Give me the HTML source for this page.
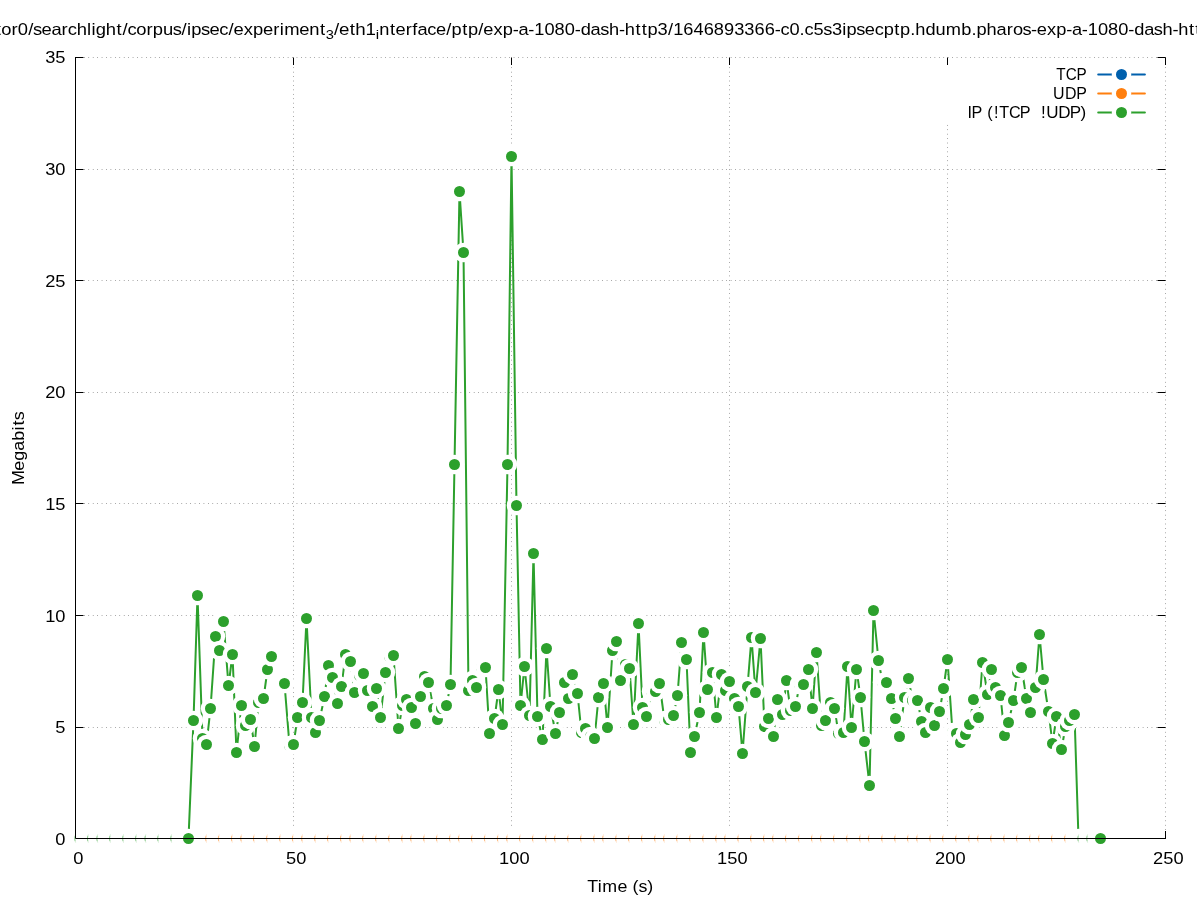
<!DOCTYPE html>
<html lang="en"><head><meta charset="utf-8"><title>Throughput plot</title>
<style>html,body{margin:0;padding:0;background:#fff}svg{display:block;will-change:transform;font-family:"Liberation Sans",sans-serif;fill:#000}</style></head><body>
<svg width="1197" height="900" viewBox="0 0 1197 900">
<rect width="1197" height="900" fill="#fff"/>
<g stroke="#808080" stroke-width="1" stroke-dasharray="0.68 3.75" fill="none"><path d="M75.125 727.50H1165.5"/><path d="M75.125 615.50H1165.5"/><path d="M75.125 503.50H1165.5"/><path d="M75.125 392.50H1165.5"/><path d="M75.125 280.50H1165.5"/><path d="M75.125 169.50H1165.5"/><path d="M75.125 57.50H1165.5"/><path d="M293.50 838.875V57.5"/><path d="M511.50 838.875V57.5"/><path d="M729.50 838.875V57.5"/><path d="M947.50 838.875V57.5"/><path d="M1165.50 838.875V57.5"/></g>
<path d="M75.5 838.50h8.0M1165.5 838.50h-8.0M75.5 727.50h8.0M1165.5 727.50h-8.0M75.5 615.50h8.0M1165.5 615.50h-8.0M75.5 503.50h8.0M1165.5 503.50h-8.0M75.5 392.50h8.0M1165.5 392.50h-8.0M75.5 280.50h8.0M1165.5 280.50h-8.0M75.5 169.50h8.0M1165.5 169.50h-8.0M75.5 57.50h8.0M1165.5 57.50h-8.0M75.50 838.5v-7.5M75.50 57.5v7.5M293.50 838.5v-7.5M293.50 57.5v7.5M511.50 838.5v-7.5M511.50 57.5v7.5M729.50 838.5v-7.5M729.50 57.5v7.5M947.50 838.5v-7.5M947.50 57.5v7.5M1165.50 838.5v-7.5M1165.50 57.5v7.5" fill="none" stroke="#000" stroke-width="1" stroke-linecap="butt"/>
<rect x="65.75" y="828.75" width="1044.50" height="19.50" fill="#fff"/>
<path d="M75.50 838.50L188.50 838.50L193.50 720.50L197.50 595.50L202.50 738.50L206.50 744.50L210.50 708.50L215.50 636.50L219.50 650.50L223.50 621.50L228.50 685.50L232.50 654.50L236.50 752.50L241.50 705.50L245.50 725.50L250.50 719.50L254.50 746.50L258.50 702.50L263.50 698.50L267.50 669.50L271.50 656.50M284.50 683.50L289.50 745.50L293.50 744.50L297.50 717.50L302.50 702.50L306.50 618.50L311.50 717.50L315.50 732.50L319.50 720.50L324.50 696.50L328.50 665.50L332.50 677.50L337.50 703.50L341.50 686.50L345.50 654.50L350.50 661.50L354.50 692.50L359.50 675.50L363.50 673.50L367.50 690.50L372.50 706.50L376.50 688.50L380.50 717.50L385.50 672.50L389.50 656.50L393.50 655.50L398.50 728.50L402.50 705.50L406.50 699.50L411.50 707.50L415.50 723.50L420.50 696.50L424.50 676.50L428.50 682.50L433.50 708.50L437.50 719.50L441.50 708.50L446.50 705.50L450.50 684.50L454.50 464.50L459.50 191.50L463.50 252.50L468.50 690.50L472.50 680.50L476.50 687.50L481.50 667.50L485.50 667.50L489.50 733.50L494.50 718.50L498.50 689.50L502.50 724.50L507.50 464.50L511.50 156.50L516.50 505.50L520.50 705.50L524.50 666.50L529.50 715.50L533.50 553.50L537.50 716.50L542.50 739.50L546.50 648.50L550.50 706.50L555.50 733.50L559.50 712.50L564.50 682.50L568.50 698.50L572.50 674.50L577.50 693.50L581.50 732.50L585.50 728.50L590.50 736.50L594.50 738.50L598.50 697.50L603.50 683.50L607.50 727.50L612.50 650.50L616.50 641.50L620.50 680.50L625.50 664.50L629.50 668.50L633.50 724.50L638.50 623.50L642.50 707.50L646.50 716.50L651.50 691.50L655.50 691.50L659.50 683.50L664.50 720.50L668.50 719.50L673.50 715.50L677.50 695.50L681.50 642.50L686.50 659.50L690.50 752.50L694.50 736.50L699.50 712.50L703.50 632.50L707.50 689.50L712.50 672.50L716.50 717.50L721.50 674.50L725.50 690.50L729.50 681.50L734.50 698.50L738.50 706.50L742.50 753.50L747.50 686.50L751.50 637.50L755.50 692.50L760.50 638.50L764.50 726.50L768.50 718.50L773.50 736.50L777.50 699.50L782.50 714.50L786.50 680.50L790.50 710.50L795.50 706.50L799.50 684.50L803.50 684.50L808.50 669.50L812.50 708.50L816.50 652.50L821.50 725.50L825.50 720.50L830.50 702.50L834.50 708.50L838.50 733.50L843.50 732.50L847.50 666.50L851.50 727.50L856.50 669.50L860.50 697.50L864.50 741.50L869.50 785.50L873.50 610.50L878.50 660.50L882.50 682.50L886.50 682.50L891.50 698.50L895.50 718.50L899.50 736.50L904.50 697.50L908.50 678.50L912.50 700.50L917.50 700.50L921.50 721.50L925.50 732.50L930.50 707.50L934.50 725.50L939.50 711.50L943.50 688.50L947.50 659.50L952.50 732.50L956.50 733.50L960.50 742.50L965.50 734.50L969.50 724.50L973.50 699.50L978.50 717.50L982.50 662.50L987.50 694.50L991.50 669.50L995.50 687.50L1000.50 695.50L1004.50 735.50L1008.50 722.50L1013.50 700.50L1017.50 672.50L1021.50 667.50L1026.50 698.50L1030.50 712.50L1035.50 687.50L1039.50 634.50L1043.50 679.50L1048.50 711.50L1052.50 743.50L1056.50 716.50L1061.50 749.50L1065.50 726.50L1069.50 720.50L1074.50 714.50L1078.50 838.50L1100.50 838.50" fill="none" stroke="#2ca02c" stroke-width="2" stroke-linejoin="round" stroke-linecap="butt"/>
<g><circle cx="75.50" cy="838.50" r="9.75" fill="#fff"/><circle cx="79.50" cy="838.50" r="9.75" fill="#fff"/><circle cx="84.50" cy="838.50" r="9.75" fill="#fff"/><circle cx="88.50" cy="838.50" r="9.75" fill="#fff"/><circle cx="93.50" cy="838.50" r="9.75" fill="#fff"/><circle cx="97.50" cy="838.50" r="9.75" fill="#fff"/><circle cx="101.50" cy="838.50" r="9.75" fill="#fff"/><circle cx="106.50" cy="838.50" r="9.75" fill="#fff"/><circle cx="110.50" cy="838.50" r="9.75" fill="#fff"/><circle cx="114.50" cy="838.50" r="9.75" fill="#fff"/><circle cx="119.50" cy="838.50" r="9.75" fill="#fff"/><circle cx="123.50" cy="838.50" r="9.75" fill="#fff"/><circle cx="127.50" cy="838.50" r="9.75" fill="#fff"/><circle cx="132.50" cy="838.50" r="9.75" fill="#fff"/><circle cx="136.50" cy="838.50" r="9.75" fill="#fff"/><circle cx="140.50" cy="838.50" r="9.75" fill="#fff"/><circle cx="145.50" cy="838.50" r="9.75" fill="#fff"/><circle cx="149.50" cy="838.50" r="9.75" fill="#fff"/><circle cx="154.50" cy="838.50" r="9.75" fill="#fff"/><circle cx="158.50" cy="838.50" r="9.75" fill="#fff"/><circle cx="162.50" cy="838.50" r="9.75" fill="#fff"/><circle cx="167.50" cy="838.50" r="9.75" fill="#fff"/><circle cx="171.50" cy="838.50" r="9.75" fill="#fff"/><circle cx="175.50" cy="838.50" r="9.75" fill="#fff"/><circle cx="180.50" cy="838.50" r="9.75" fill="#fff"/><circle cx="184.50" cy="838.50" r="9.75" fill="#fff"/><circle cx="188.50" cy="838.50" r="9.75" fill="#fff"/><circle cx="188.50" cy="838.50" r="5.5" fill="#2ca02c"/><circle cx="193.50" cy="720.50" r="9.75" fill="#fff"/><circle cx="193.50" cy="720.50" r="5.5" fill="#2ca02c"/><circle cx="197.50" cy="595.50" r="9.75" fill="#fff"/><circle cx="197.50" cy="595.50" r="5.5" fill="#2ca02c"/><circle cx="202.50" cy="738.50" r="9.75" fill="#fff"/><circle cx="202.50" cy="738.50" r="5.5" fill="#2ca02c"/><circle cx="206.50" cy="744.50" r="9.75" fill="#fff"/><circle cx="206.50" cy="744.50" r="5.5" fill="#2ca02c"/><circle cx="210.50" cy="708.50" r="9.75" fill="#fff"/><circle cx="210.50" cy="708.50" r="5.5" fill="#2ca02c"/><circle cx="215.50" cy="636.50" r="9.75" fill="#fff"/><circle cx="215.50" cy="636.50" r="5.5" fill="#2ca02c"/><circle cx="219.50" cy="650.50" r="9.75" fill="#fff"/><circle cx="219.50" cy="650.50" r="5.5" fill="#2ca02c"/><circle cx="223.50" cy="621.50" r="9.75" fill="#fff"/><circle cx="223.50" cy="621.50" r="5.5" fill="#2ca02c"/><circle cx="228.50" cy="685.50" r="9.75" fill="#fff"/><circle cx="228.50" cy="685.50" r="5.5" fill="#2ca02c"/><circle cx="232.50" cy="654.50" r="9.75" fill="#fff"/><circle cx="232.50" cy="654.50" r="5.5" fill="#2ca02c"/><circle cx="236.50" cy="752.50" r="9.75" fill="#fff"/><circle cx="236.50" cy="752.50" r="5.5" fill="#2ca02c"/><circle cx="241.50" cy="705.50" r="9.75" fill="#fff"/><circle cx="241.50" cy="705.50" r="5.5" fill="#2ca02c"/><circle cx="245.50" cy="725.50" r="9.75" fill="#fff"/><circle cx="245.50" cy="725.50" r="5.5" fill="#2ca02c"/><circle cx="250.50" cy="719.50" r="9.75" fill="#fff"/><circle cx="250.50" cy="719.50" r="5.5" fill="#2ca02c"/><circle cx="254.50" cy="746.50" r="9.75" fill="#fff"/><circle cx="254.50" cy="746.50" r="5.5" fill="#2ca02c"/><circle cx="258.50" cy="702.50" r="9.75" fill="#fff"/><circle cx="258.50" cy="702.50" r="5.5" fill="#2ca02c"/><circle cx="263.50" cy="698.50" r="9.75" fill="#fff"/><circle cx="263.50" cy="698.50" r="5.5" fill="#2ca02c"/><circle cx="267.50" cy="669.50" r="9.75" fill="#fff"/><circle cx="267.50" cy="669.50" r="5.5" fill="#2ca02c"/><circle cx="271.50" cy="656.50" r="9.75" fill="#fff"/><circle cx="271.50" cy="656.50" r="5.5" fill="#2ca02c"/><circle cx="284.50" cy="683.50" r="9.75" fill="#fff"/><circle cx="284.50" cy="683.50" r="5.5" fill="#2ca02c"/><circle cx="289.50" cy="745.50" r="9.75" fill="#fff"/><circle cx="289.50" cy="745.50" r="5.5" fill="#2ca02c"/><circle cx="293.50" cy="744.50" r="9.75" fill="#fff"/><circle cx="293.50" cy="744.50" r="5.5" fill="#2ca02c"/><circle cx="297.50" cy="717.50" r="9.75" fill="#fff"/><circle cx="297.50" cy="717.50" r="5.5" fill="#2ca02c"/><circle cx="302.50" cy="702.50" r="9.75" fill="#fff"/><circle cx="302.50" cy="702.50" r="5.5" fill="#2ca02c"/><circle cx="306.50" cy="618.50" r="9.75" fill="#fff"/><circle cx="306.50" cy="618.50" r="5.5" fill="#2ca02c"/><circle cx="311.50" cy="717.50" r="9.75" fill="#fff"/><circle cx="311.50" cy="717.50" r="5.5" fill="#2ca02c"/><circle cx="315.50" cy="732.50" r="9.75" fill="#fff"/><circle cx="315.50" cy="732.50" r="5.5" fill="#2ca02c"/><circle cx="319.50" cy="720.50" r="9.75" fill="#fff"/><circle cx="319.50" cy="720.50" r="5.5" fill="#2ca02c"/><circle cx="324.50" cy="696.50" r="9.75" fill="#fff"/><circle cx="324.50" cy="696.50" r="5.5" fill="#2ca02c"/><circle cx="328.50" cy="665.50" r="9.75" fill="#fff"/><circle cx="328.50" cy="665.50" r="5.5" fill="#2ca02c"/><circle cx="332.50" cy="677.50" r="9.75" fill="#fff"/><circle cx="332.50" cy="677.50" r="5.5" fill="#2ca02c"/><circle cx="337.50" cy="703.50" r="9.75" fill="#fff"/><circle cx="337.50" cy="703.50" r="5.5" fill="#2ca02c"/><circle cx="341.50" cy="686.50" r="9.75" fill="#fff"/><circle cx="341.50" cy="686.50" r="5.5" fill="#2ca02c"/><circle cx="345.50" cy="654.50" r="9.75" fill="#fff"/><circle cx="345.50" cy="654.50" r="5.5" fill="#2ca02c"/><circle cx="350.50" cy="661.50" r="9.75" fill="#fff"/><circle cx="350.50" cy="661.50" r="5.5" fill="#2ca02c"/><circle cx="354.50" cy="692.50" r="9.75" fill="#fff"/><circle cx="354.50" cy="692.50" r="5.5" fill="#2ca02c"/><circle cx="359.50" cy="675.50" r="9.75" fill="#fff"/><circle cx="359.50" cy="675.50" r="5.5" fill="#2ca02c"/><circle cx="363.50" cy="673.50" r="9.75" fill="#fff"/><circle cx="363.50" cy="673.50" r="5.5" fill="#2ca02c"/><circle cx="367.50" cy="690.50" r="9.75" fill="#fff"/><circle cx="367.50" cy="690.50" r="5.5" fill="#2ca02c"/><circle cx="372.50" cy="706.50" r="9.75" fill="#fff"/><circle cx="372.50" cy="706.50" r="5.5" fill="#2ca02c"/><circle cx="376.50" cy="688.50" r="9.75" fill="#fff"/><circle cx="376.50" cy="688.50" r="5.5" fill="#2ca02c"/><circle cx="380.50" cy="717.50" r="9.75" fill="#fff"/><circle cx="380.50" cy="717.50" r="5.5" fill="#2ca02c"/><circle cx="385.50" cy="672.50" r="9.75" fill="#fff"/><circle cx="385.50" cy="672.50" r="5.5" fill="#2ca02c"/><circle cx="389.50" cy="656.50" r="9.75" fill="#fff"/><circle cx="389.50" cy="656.50" r="5.5" fill="#2ca02c"/><circle cx="393.50" cy="655.50" r="9.75" fill="#fff"/><circle cx="393.50" cy="655.50" r="5.5" fill="#2ca02c"/><circle cx="398.50" cy="728.50" r="9.75" fill="#fff"/><circle cx="398.50" cy="728.50" r="5.5" fill="#2ca02c"/><circle cx="402.50" cy="705.50" r="9.75" fill="#fff"/><circle cx="402.50" cy="705.50" r="5.5" fill="#2ca02c"/><circle cx="406.50" cy="699.50" r="9.75" fill="#fff"/><circle cx="406.50" cy="699.50" r="5.5" fill="#2ca02c"/><circle cx="411.50" cy="707.50" r="9.75" fill="#fff"/><circle cx="411.50" cy="707.50" r="5.5" fill="#2ca02c"/><circle cx="415.50" cy="723.50" r="9.75" fill="#fff"/><circle cx="415.50" cy="723.50" r="5.5" fill="#2ca02c"/><circle cx="420.50" cy="696.50" r="9.75" fill="#fff"/><circle cx="420.50" cy="696.50" r="5.5" fill="#2ca02c"/><circle cx="424.50" cy="676.50" r="9.75" fill="#fff"/><circle cx="424.50" cy="676.50" r="5.5" fill="#2ca02c"/><circle cx="428.50" cy="682.50" r="9.75" fill="#fff"/><circle cx="428.50" cy="682.50" r="5.5" fill="#2ca02c"/><circle cx="433.50" cy="708.50" r="9.75" fill="#fff"/><circle cx="433.50" cy="708.50" r="5.5" fill="#2ca02c"/><circle cx="437.50" cy="719.50" r="9.75" fill="#fff"/><circle cx="437.50" cy="719.50" r="5.5" fill="#2ca02c"/><circle cx="441.50" cy="708.50" r="9.75" fill="#fff"/><circle cx="441.50" cy="708.50" r="5.5" fill="#2ca02c"/><circle cx="446.50" cy="705.50" r="9.75" fill="#fff"/><circle cx="446.50" cy="705.50" r="5.5" fill="#2ca02c"/><circle cx="450.50" cy="684.50" r="9.75" fill="#fff"/><circle cx="450.50" cy="684.50" r="5.5" fill="#2ca02c"/><circle cx="454.50" cy="464.50" r="9.75" fill="#fff"/><circle cx="454.50" cy="464.50" r="5.5" fill="#2ca02c"/><circle cx="459.50" cy="191.50" r="9.75" fill="#fff"/><circle cx="459.50" cy="191.50" r="5.5" fill="#2ca02c"/><circle cx="463.50" cy="252.50" r="9.75" fill="#fff"/><circle cx="463.50" cy="252.50" r="5.5" fill="#2ca02c"/><circle cx="468.50" cy="690.50" r="9.75" fill="#fff"/><circle cx="468.50" cy="690.50" r="5.5" fill="#2ca02c"/><circle cx="472.50" cy="680.50" r="9.75" fill="#fff"/><circle cx="472.50" cy="680.50" r="5.5" fill="#2ca02c"/><circle cx="476.50" cy="687.50" r="9.75" fill="#fff"/><circle cx="476.50" cy="687.50" r="5.5" fill="#2ca02c"/><circle cx="481.50" cy="667.50" r="9.75" fill="#fff"/><circle cx="481.50" cy="667.50" r="5.5" fill="#2ca02c"/><circle cx="485.50" cy="667.50" r="9.75" fill="#fff"/><circle cx="485.50" cy="667.50" r="5.5" fill="#2ca02c"/><circle cx="489.50" cy="733.50" r="9.75" fill="#fff"/><circle cx="489.50" cy="733.50" r="5.5" fill="#2ca02c"/><circle cx="494.50" cy="718.50" r="9.75" fill="#fff"/><circle cx="494.50" cy="718.50" r="5.5" fill="#2ca02c"/><circle cx="498.50" cy="689.50" r="9.75" fill="#fff"/><circle cx="498.50" cy="689.50" r="5.5" fill="#2ca02c"/><circle cx="502.50" cy="724.50" r="9.75" fill="#fff"/><circle cx="502.50" cy="724.50" r="5.5" fill="#2ca02c"/><circle cx="507.50" cy="464.50" r="9.75" fill="#fff"/><circle cx="507.50" cy="464.50" r="5.5" fill="#2ca02c"/><circle cx="511.50" cy="156.50" r="9.75" fill="#fff"/><circle cx="511.50" cy="156.50" r="5.5" fill="#2ca02c"/><circle cx="516.50" cy="505.50" r="9.75" fill="#fff"/><circle cx="516.50" cy="505.50" r="5.5" fill="#2ca02c"/><circle cx="520.50" cy="705.50" r="9.75" fill="#fff"/><circle cx="520.50" cy="705.50" r="5.5" fill="#2ca02c"/><circle cx="524.50" cy="666.50" r="9.75" fill="#fff"/><circle cx="524.50" cy="666.50" r="5.5" fill="#2ca02c"/><circle cx="529.50" cy="715.50" r="9.75" fill="#fff"/><circle cx="529.50" cy="715.50" r="5.5" fill="#2ca02c"/><circle cx="533.50" cy="553.50" r="9.75" fill="#fff"/><circle cx="533.50" cy="553.50" r="5.5" fill="#2ca02c"/><circle cx="537.50" cy="716.50" r="9.75" fill="#fff"/><circle cx="537.50" cy="716.50" r="5.5" fill="#2ca02c"/><circle cx="542.50" cy="739.50" r="9.75" fill="#fff"/><circle cx="542.50" cy="739.50" r="5.5" fill="#2ca02c"/><circle cx="546.50" cy="648.50" r="9.75" fill="#fff"/><circle cx="546.50" cy="648.50" r="5.5" fill="#2ca02c"/><circle cx="550.50" cy="706.50" r="9.75" fill="#fff"/><circle cx="550.50" cy="706.50" r="5.5" fill="#2ca02c"/><circle cx="555.50" cy="733.50" r="9.75" fill="#fff"/><circle cx="555.50" cy="733.50" r="5.5" fill="#2ca02c"/><circle cx="559.50" cy="712.50" r="9.75" fill="#fff"/><circle cx="559.50" cy="712.50" r="5.5" fill="#2ca02c"/><circle cx="564.50" cy="682.50" r="9.75" fill="#fff"/><circle cx="564.50" cy="682.50" r="5.5" fill="#2ca02c"/><circle cx="568.50" cy="698.50" r="9.75" fill="#fff"/><circle cx="568.50" cy="698.50" r="5.5" fill="#2ca02c"/><circle cx="572.50" cy="674.50" r="9.75" fill="#fff"/><circle cx="572.50" cy="674.50" r="5.5" fill="#2ca02c"/><circle cx="577.50" cy="693.50" r="9.75" fill="#fff"/><circle cx="577.50" cy="693.50" r="5.5" fill="#2ca02c"/><circle cx="581.50" cy="732.50" r="9.75" fill="#fff"/><circle cx="581.50" cy="732.50" r="5.5" fill="#2ca02c"/><circle cx="585.50" cy="728.50" r="9.75" fill="#fff"/><circle cx="585.50" cy="728.50" r="5.5" fill="#2ca02c"/><circle cx="590.50" cy="736.50" r="9.75" fill="#fff"/><circle cx="590.50" cy="736.50" r="5.5" fill="#2ca02c"/><circle cx="594.50" cy="738.50" r="9.75" fill="#fff"/><circle cx="594.50" cy="738.50" r="5.5" fill="#2ca02c"/><circle cx="598.50" cy="697.50" r="9.75" fill="#fff"/><circle cx="598.50" cy="697.50" r="5.5" fill="#2ca02c"/><circle cx="603.50" cy="683.50" r="9.75" fill="#fff"/><circle cx="603.50" cy="683.50" r="5.5" fill="#2ca02c"/><circle cx="607.50" cy="727.50" r="9.75" fill="#fff"/><circle cx="607.50" cy="727.50" r="5.5" fill="#2ca02c"/><circle cx="612.50" cy="650.50" r="9.75" fill="#fff"/><circle cx="612.50" cy="650.50" r="5.5" fill="#2ca02c"/><circle cx="616.50" cy="641.50" r="9.75" fill="#fff"/><circle cx="616.50" cy="641.50" r="5.5" fill="#2ca02c"/><circle cx="620.50" cy="680.50" r="9.75" fill="#fff"/><circle cx="620.50" cy="680.50" r="5.5" fill="#2ca02c"/><circle cx="625.50" cy="664.50" r="9.75" fill="#fff"/><circle cx="625.50" cy="664.50" r="5.5" fill="#2ca02c"/><circle cx="629.50" cy="668.50" r="9.75" fill="#fff"/><circle cx="629.50" cy="668.50" r="5.5" fill="#2ca02c"/><circle cx="633.50" cy="724.50" r="9.75" fill="#fff"/><circle cx="633.50" cy="724.50" r="5.5" fill="#2ca02c"/><circle cx="638.50" cy="623.50" r="9.75" fill="#fff"/><circle cx="638.50" cy="623.50" r="5.5" fill="#2ca02c"/><circle cx="642.50" cy="707.50" r="9.75" fill="#fff"/><circle cx="642.50" cy="707.50" r="5.5" fill="#2ca02c"/><circle cx="646.50" cy="716.50" r="9.75" fill="#fff"/><circle cx="646.50" cy="716.50" r="5.5" fill="#2ca02c"/><circle cx="651.50" cy="691.50" r="9.75" fill="#fff"/><circle cx="651.50" cy="691.50" r="5.5" fill="#2ca02c"/><circle cx="655.50" cy="691.50" r="9.75" fill="#fff"/><circle cx="655.50" cy="691.50" r="5.5" fill="#2ca02c"/><circle cx="659.50" cy="683.50" r="9.75" fill="#fff"/><circle cx="659.50" cy="683.50" r="5.5" fill="#2ca02c"/><circle cx="664.50" cy="720.50" r="9.75" fill="#fff"/><circle cx="664.50" cy="720.50" r="5.5" fill="#2ca02c"/><circle cx="668.50" cy="719.50" r="9.75" fill="#fff"/><circle cx="668.50" cy="719.50" r="5.5" fill="#2ca02c"/><circle cx="673.50" cy="715.50" r="9.75" fill="#fff"/><circle cx="673.50" cy="715.50" r="5.5" fill="#2ca02c"/><circle cx="677.50" cy="695.50" r="9.75" fill="#fff"/><circle cx="677.50" cy="695.50" r="5.5" fill="#2ca02c"/><circle cx="681.50" cy="642.50" r="9.75" fill="#fff"/><circle cx="681.50" cy="642.50" r="5.5" fill="#2ca02c"/><circle cx="686.50" cy="659.50" r="9.75" fill="#fff"/><circle cx="686.50" cy="659.50" r="5.5" fill="#2ca02c"/><circle cx="690.50" cy="752.50" r="9.75" fill="#fff"/><circle cx="690.50" cy="752.50" r="5.5" fill="#2ca02c"/><circle cx="694.50" cy="736.50" r="9.75" fill="#fff"/><circle cx="694.50" cy="736.50" r="5.5" fill="#2ca02c"/><circle cx="699.50" cy="712.50" r="9.75" fill="#fff"/><circle cx="699.50" cy="712.50" r="5.5" fill="#2ca02c"/><circle cx="703.50" cy="632.50" r="9.75" fill="#fff"/><circle cx="703.50" cy="632.50" r="5.5" fill="#2ca02c"/><circle cx="707.50" cy="689.50" r="9.75" fill="#fff"/><circle cx="707.50" cy="689.50" r="5.5" fill="#2ca02c"/><circle cx="712.50" cy="672.50" r="9.75" fill="#fff"/><circle cx="712.50" cy="672.50" r="5.5" fill="#2ca02c"/><circle cx="716.50" cy="717.50" r="9.75" fill="#fff"/><circle cx="716.50" cy="717.50" r="5.5" fill="#2ca02c"/><circle cx="721.50" cy="674.50" r="9.75" fill="#fff"/><circle cx="721.50" cy="674.50" r="5.5" fill="#2ca02c"/><circle cx="725.50" cy="690.50" r="9.75" fill="#fff"/><circle cx="725.50" cy="690.50" r="5.5" fill="#2ca02c"/><circle cx="729.50" cy="681.50" r="9.75" fill="#fff"/><circle cx="729.50" cy="681.50" r="5.5" fill="#2ca02c"/><circle cx="734.50" cy="698.50" r="9.75" fill="#fff"/><circle cx="734.50" cy="698.50" r="5.5" fill="#2ca02c"/><circle cx="738.50" cy="706.50" r="9.75" fill="#fff"/><circle cx="738.50" cy="706.50" r="5.5" fill="#2ca02c"/><circle cx="742.50" cy="753.50" r="9.75" fill="#fff"/><circle cx="742.50" cy="753.50" r="5.5" fill="#2ca02c"/><circle cx="747.50" cy="686.50" r="9.75" fill="#fff"/><circle cx="747.50" cy="686.50" r="5.5" fill="#2ca02c"/><circle cx="751.50" cy="637.50" r="9.75" fill="#fff"/><circle cx="751.50" cy="637.50" r="5.5" fill="#2ca02c"/><circle cx="755.50" cy="692.50" r="9.75" fill="#fff"/><circle cx="755.50" cy="692.50" r="5.5" fill="#2ca02c"/><circle cx="760.50" cy="638.50" r="9.75" fill="#fff"/><circle cx="760.50" cy="638.50" r="5.5" fill="#2ca02c"/><circle cx="764.50" cy="726.50" r="9.75" fill="#fff"/><circle cx="764.50" cy="726.50" r="5.5" fill="#2ca02c"/><circle cx="768.50" cy="718.50" r="9.75" fill="#fff"/><circle cx="768.50" cy="718.50" r="5.5" fill="#2ca02c"/><circle cx="773.50" cy="736.50" r="9.75" fill="#fff"/><circle cx="773.50" cy="736.50" r="5.5" fill="#2ca02c"/><circle cx="777.50" cy="699.50" r="9.75" fill="#fff"/><circle cx="777.50" cy="699.50" r="5.5" fill="#2ca02c"/><circle cx="782.50" cy="714.50" r="9.75" fill="#fff"/><circle cx="782.50" cy="714.50" r="5.5" fill="#2ca02c"/><circle cx="786.50" cy="680.50" r="9.75" fill="#fff"/><circle cx="786.50" cy="680.50" r="5.5" fill="#2ca02c"/><circle cx="790.50" cy="710.50" r="9.75" fill="#fff"/><circle cx="790.50" cy="710.50" r="5.5" fill="#2ca02c"/><circle cx="795.50" cy="706.50" r="9.75" fill="#fff"/><circle cx="795.50" cy="706.50" r="5.5" fill="#2ca02c"/><circle cx="799.50" cy="684.50" r="9.75" fill="#fff"/><circle cx="799.50" cy="684.50" r="5.5" fill="#2ca02c"/><circle cx="803.50" cy="684.50" r="9.75" fill="#fff"/><circle cx="803.50" cy="684.50" r="5.5" fill="#2ca02c"/><circle cx="808.50" cy="669.50" r="9.75" fill="#fff"/><circle cx="808.50" cy="669.50" r="5.5" fill="#2ca02c"/><circle cx="812.50" cy="708.50" r="9.75" fill="#fff"/><circle cx="812.50" cy="708.50" r="5.5" fill="#2ca02c"/><circle cx="816.50" cy="652.50" r="9.75" fill="#fff"/><circle cx="816.50" cy="652.50" r="5.5" fill="#2ca02c"/><circle cx="821.50" cy="725.50" r="9.75" fill="#fff"/><circle cx="821.50" cy="725.50" r="5.5" fill="#2ca02c"/><circle cx="825.50" cy="720.50" r="9.75" fill="#fff"/><circle cx="825.50" cy="720.50" r="5.5" fill="#2ca02c"/><circle cx="830.50" cy="702.50" r="9.75" fill="#fff"/><circle cx="830.50" cy="702.50" r="5.5" fill="#2ca02c"/><circle cx="834.50" cy="708.50" r="9.75" fill="#fff"/><circle cx="834.50" cy="708.50" r="5.5" fill="#2ca02c"/><circle cx="838.50" cy="733.50" r="9.75" fill="#fff"/><circle cx="838.50" cy="733.50" r="5.5" fill="#2ca02c"/><circle cx="843.50" cy="732.50" r="9.75" fill="#fff"/><circle cx="843.50" cy="732.50" r="5.5" fill="#2ca02c"/><circle cx="847.50" cy="666.50" r="9.75" fill="#fff"/><circle cx="847.50" cy="666.50" r="5.5" fill="#2ca02c"/><circle cx="851.50" cy="727.50" r="9.75" fill="#fff"/><circle cx="851.50" cy="727.50" r="5.5" fill="#2ca02c"/><circle cx="856.50" cy="669.50" r="9.75" fill="#fff"/><circle cx="856.50" cy="669.50" r="5.5" fill="#2ca02c"/><circle cx="860.50" cy="697.50" r="9.75" fill="#fff"/><circle cx="860.50" cy="697.50" r="5.5" fill="#2ca02c"/><circle cx="864.50" cy="741.50" r="9.75" fill="#fff"/><circle cx="864.50" cy="741.50" r="5.5" fill="#2ca02c"/><circle cx="869.50" cy="785.50" r="9.75" fill="#fff"/><circle cx="869.50" cy="785.50" r="5.5" fill="#2ca02c"/><circle cx="873.50" cy="610.50" r="9.75" fill="#fff"/><circle cx="873.50" cy="610.50" r="5.5" fill="#2ca02c"/><circle cx="878.50" cy="660.50" r="9.75" fill="#fff"/><circle cx="878.50" cy="660.50" r="5.5" fill="#2ca02c"/><circle cx="882.50" cy="682.50" r="9.75" fill="#fff"/><circle cx="882.50" cy="682.50" r="5.5" fill="#2ca02c"/><circle cx="886.50" cy="682.50" r="9.75" fill="#fff"/><circle cx="886.50" cy="682.50" r="5.5" fill="#2ca02c"/><circle cx="891.50" cy="698.50" r="9.75" fill="#fff"/><circle cx="891.50" cy="698.50" r="5.5" fill="#2ca02c"/><circle cx="895.50" cy="718.50" r="9.75" fill="#fff"/><circle cx="895.50" cy="718.50" r="5.5" fill="#2ca02c"/><circle cx="899.50" cy="736.50" r="9.75" fill="#fff"/><circle cx="899.50" cy="736.50" r="5.5" fill="#2ca02c"/><circle cx="904.50" cy="697.50" r="9.75" fill="#fff"/><circle cx="904.50" cy="697.50" r="5.5" fill="#2ca02c"/><circle cx="908.50" cy="678.50" r="9.75" fill="#fff"/><circle cx="908.50" cy="678.50" r="5.5" fill="#2ca02c"/><circle cx="912.50" cy="700.50" r="9.75" fill="#fff"/><circle cx="912.50" cy="700.50" r="5.5" fill="#2ca02c"/><circle cx="917.50" cy="700.50" r="9.75" fill="#fff"/><circle cx="917.50" cy="700.50" r="5.5" fill="#2ca02c"/><circle cx="921.50" cy="721.50" r="9.75" fill="#fff"/><circle cx="921.50" cy="721.50" r="5.5" fill="#2ca02c"/><circle cx="925.50" cy="732.50" r="9.75" fill="#fff"/><circle cx="925.50" cy="732.50" r="5.5" fill="#2ca02c"/><circle cx="930.50" cy="707.50" r="9.75" fill="#fff"/><circle cx="930.50" cy="707.50" r="5.5" fill="#2ca02c"/><circle cx="934.50" cy="725.50" r="9.75" fill="#fff"/><circle cx="934.50" cy="725.50" r="5.5" fill="#2ca02c"/><circle cx="939.50" cy="711.50" r="9.75" fill="#fff"/><circle cx="939.50" cy="711.50" r="5.5" fill="#2ca02c"/><circle cx="943.50" cy="688.50" r="9.75" fill="#fff"/><circle cx="943.50" cy="688.50" r="5.5" fill="#2ca02c"/><circle cx="947.50" cy="659.50" r="9.75" fill="#fff"/><circle cx="947.50" cy="659.50" r="5.5" fill="#2ca02c"/><circle cx="952.50" cy="732.50" r="9.75" fill="#fff"/><circle cx="952.50" cy="732.50" r="5.5" fill="#2ca02c"/><circle cx="956.50" cy="733.50" r="9.75" fill="#fff"/><circle cx="956.50" cy="733.50" r="5.5" fill="#2ca02c"/><circle cx="960.50" cy="742.50" r="9.75" fill="#fff"/><circle cx="960.50" cy="742.50" r="5.5" fill="#2ca02c"/><circle cx="965.50" cy="734.50" r="9.75" fill="#fff"/><circle cx="965.50" cy="734.50" r="5.5" fill="#2ca02c"/><circle cx="969.50" cy="724.50" r="9.75" fill="#fff"/><circle cx="969.50" cy="724.50" r="5.5" fill="#2ca02c"/><circle cx="973.50" cy="699.50" r="9.75" fill="#fff"/><circle cx="973.50" cy="699.50" r="5.5" fill="#2ca02c"/><circle cx="978.50" cy="717.50" r="9.75" fill="#fff"/><circle cx="978.50" cy="717.50" r="5.5" fill="#2ca02c"/><circle cx="982.50" cy="662.50" r="9.75" fill="#fff"/><circle cx="982.50" cy="662.50" r="5.5" fill="#2ca02c"/><circle cx="987.50" cy="694.50" r="9.75" fill="#fff"/><circle cx="987.50" cy="694.50" r="5.5" fill="#2ca02c"/><circle cx="991.50" cy="669.50" r="9.75" fill="#fff"/><circle cx="991.50" cy="669.50" r="5.5" fill="#2ca02c"/><circle cx="995.50" cy="687.50" r="9.75" fill="#fff"/><circle cx="995.50" cy="687.50" r="5.5" fill="#2ca02c"/><circle cx="1000.50" cy="695.50" r="9.75" fill="#fff"/><circle cx="1000.50" cy="695.50" r="5.5" fill="#2ca02c"/><circle cx="1004.50" cy="735.50" r="9.75" fill="#fff"/><circle cx="1004.50" cy="735.50" r="5.5" fill="#2ca02c"/><circle cx="1008.50" cy="722.50" r="9.75" fill="#fff"/><circle cx="1008.50" cy="722.50" r="5.5" fill="#2ca02c"/><circle cx="1013.50" cy="700.50" r="9.75" fill="#fff"/><circle cx="1013.50" cy="700.50" r="5.5" fill="#2ca02c"/><circle cx="1017.50" cy="672.50" r="9.75" fill="#fff"/><circle cx="1017.50" cy="672.50" r="5.5" fill="#2ca02c"/><circle cx="1021.50" cy="667.50" r="9.75" fill="#fff"/><circle cx="1021.50" cy="667.50" r="5.5" fill="#2ca02c"/><circle cx="1026.50" cy="698.50" r="9.75" fill="#fff"/><circle cx="1026.50" cy="698.50" r="5.5" fill="#2ca02c"/><circle cx="1030.50" cy="712.50" r="9.75" fill="#fff"/><circle cx="1030.50" cy="712.50" r="5.5" fill="#2ca02c"/><circle cx="1035.50" cy="687.50" r="9.75" fill="#fff"/><circle cx="1035.50" cy="687.50" r="5.5" fill="#2ca02c"/><circle cx="1039.50" cy="634.50" r="9.75" fill="#fff"/><circle cx="1039.50" cy="634.50" r="5.5" fill="#2ca02c"/><circle cx="1043.50" cy="679.50" r="9.75" fill="#fff"/><circle cx="1043.50" cy="679.50" r="5.5" fill="#2ca02c"/><circle cx="1048.50" cy="711.50" r="9.75" fill="#fff"/><circle cx="1048.50" cy="711.50" r="5.5" fill="#2ca02c"/><circle cx="1052.50" cy="743.50" r="9.75" fill="#fff"/><circle cx="1052.50" cy="743.50" r="5.5" fill="#2ca02c"/><circle cx="1056.50" cy="716.50" r="9.75" fill="#fff"/><circle cx="1056.50" cy="716.50" r="5.5" fill="#2ca02c"/><circle cx="1061.50" cy="749.50" r="9.75" fill="#fff"/><circle cx="1061.50" cy="749.50" r="5.5" fill="#2ca02c"/><circle cx="1065.50" cy="726.50" r="9.75" fill="#fff"/><circle cx="1065.50" cy="726.50" r="5.5" fill="#2ca02c"/><circle cx="1069.50" cy="720.50" r="9.75" fill="#fff"/><circle cx="1069.50" cy="720.50" r="5.5" fill="#2ca02c"/><circle cx="1074.50" cy="714.50" r="9.75" fill="#fff"/><circle cx="1074.50" cy="714.50" r="5.5" fill="#2ca02c"/><circle cx="1078.50" cy="838.50" r="9.75" fill="#fff"/><circle cx="1082.50" cy="838.50" r="9.75" fill="#fff"/><circle cx="1087.50" cy="838.50" r="9.75" fill="#fff"/><circle cx="1091.50" cy="838.50" r="9.75" fill="#fff"/><circle cx="1096.50" cy="838.50" r="9.75" fill="#fff"/><circle cx="1100.50" cy="838.50" r="9.75" fill="#fff"/><circle cx="1100.50" cy="838.50" r="5.5" fill="#2ca02c"/></g>
<g fill="none" stroke-width="0.9"><g stroke="#2ca02c"><path d="M75.69 834.23A9.75 9.75 0 0 0 75.69 842.77" stroke-opacity="0.18"/><path d="M75.08 835.81A9.75 9.75 0 0 0 75.08 841.19" stroke-opacity="0.5"/><path d="M88.39 834.23A9.75 9.75 0 0 0 88.39 842.77" stroke-opacity="0.18"/><path d="M87.78 835.81A9.75 9.75 0 0 0 87.78 841.19" stroke-opacity="0.5"/><path d="M97.79 834.23A9.75 9.75 0 0 0 97.79 842.77" stroke-opacity="0.18"/><path d="M97.18 835.81A9.75 9.75 0 0 0 97.18 841.19" stroke-opacity="0.5"/><path d="M110.49 834.23A9.75 9.75 0 0 0 110.49 842.77" stroke-opacity="0.18"/><path d="M109.88 835.81A9.75 9.75 0 0 0 109.88 841.19" stroke-opacity="0.5"/><path d="M123.59 834.23A9.75 9.75 0 0 0 123.59 842.77" stroke-opacity="0.18"/><path d="M122.98 835.81A9.75 9.75 0 0 0 122.98 841.19" stroke-opacity="0.5"/><path d="M136.49 834.23A9.75 9.75 0 0 0 136.49 842.77" stroke-opacity="0.18"/><path d="M135.88 835.81A9.75 9.75 0 0 0 135.88 841.19" stroke-opacity="0.5"/><path d="M145.89 834.23A9.75 9.75 0 0 0 145.89 842.77" stroke-opacity="0.18"/><path d="M145.28 835.81A9.75 9.75 0 0 0 145.28 841.19" stroke-opacity="0.5"/><path d="M158.59 834.23A9.75 9.75 0 0 0 158.59 842.77" stroke-opacity="0.18"/><path d="M157.98 835.81A9.75 9.75 0 0 0 157.98 841.19" stroke-opacity="0.5"/><path d="M171.69 834.23A9.75 9.75 0 0 0 171.69 842.77" stroke-opacity="0.18"/><path d="M171.08 835.81A9.75 9.75 0 0 0 171.08 841.19" stroke-opacity="0.5"/><path d="M1078.79 834.23A9.75 9.75 0 0 0 1078.79 842.77" stroke-opacity="0.18"/><path d="M1078.18 835.81A9.75 9.75 0 0 0 1078.18 841.19" stroke-opacity="0.5"/><path d="M1087.69 834.23A9.75 9.75 0 0 0 1087.69 842.77" stroke-opacity="0.18"/><path d="M1087.08 835.81A9.75 9.75 0 0 0 1087.08 841.19" stroke-opacity="0.5"/></g><g stroke="#ff7f0e"><path d="M206.59 834.23A9.75 9.75 0 0 0 206.59 842.77" stroke-opacity="0.18"/><path d="M205.98 835.81A9.75 9.75 0 0 0 205.98 841.19" stroke-opacity="0.5"/><path d="M219.29 834.23A9.75 9.75 0 0 0 219.29 842.77" stroke-opacity="0.18"/><path d="M218.68 835.81A9.75 9.75 0 0 0 218.68 841.19" stroke-opacity="0.5"/><path d="M232.39 834.23A9.75 9.75 0 0 0 232.39 842.77" stroke-opacity="0.18"/><path d="M231.78 835.81A9.75 9.75 0 0 0 231.78 841.19" stroke-opacity="0.5"/><path d="M241.69 834.23A9.75 9.75 0 0 0 241.69 842.77" stroke-opacity="0.18"/><path d="M241.08 835.81A9.75 9.75 0 0 0 241.08 841.19" stroke-opacity="0.5"/><path d="M254.39 834.23A9.75 9.75 0 0 0 254.39 842.77" stroke-opacity="0.18"/><path d="M253.78 835.81A9.75 9.75 0 0 0 253.78 841.19" stroke-opacity="0.5"/><path d="M267.49 834.23A9.75 9.75 0 0 0 267.49 842.77" stroke-opacity="0.18"/><path d="M266.88 835.81A9.75 9.75 0 0 0 266.88 841.19" stroke-opacity="0.5"/><path d="M280.49 834.23A9.75 9.75 0 0 0 280.49 842.77" stroke-opacity="0.18"/><path d="M279.88 835.81A9.75 9.75 0 0 0 279.88 841.19" stroke-opacity="0.5"/><path d="M293.29 834.23A9.75 9.75 0 0 0 293.29 842.77" stroke-opacity="0.18"/><path d="M292.68 835.81A9.75 9.75 0 0 0 292.68 841.19" stroke-opacity="0.5"/><path d="M302.59 834.23A9.75 9.75 0 0 0 302.59 842.77" stroke-opacity="0.18"/><path d="M301.98 835.81A9.75 9.75 0 0 0 301.98 841.19" stroke-opacity="0.5"/><path d="M315.59 834.23A9.75 9.75 0 0 0 315.59 842.77" stroke-opacity="0.18"/><path d="M314.98 835.81A9.75 9.75 0 0 0 314.98 841.19" stroke-opacity="0.5"/><path d="M328.39 834.23A9.75 9.75 0 0 0 328.39 842.77" stroke-opacity="0.18"/><path d="M327.78 835.81A9.75 9.75 0 0 0 327.78 841.19" stroke-opacity="0.5"/><path d="M341.39 834.23A9.75 9.75 0 0 0 341.39 842.77" stroke-opacity="0.18"/><path d="M340.78 835.81A9.75 9.75 0 0 0 340.78 841.19" stroke-opacity="0.5"/><path d="M350.69 834.23A9.75 9.75 0 0 0 350.69 842.77" stroke-opacity="0.18"/><path d="M350.08 835.81A9.75 9.75 0 0 0 350.08 841.19" stroke-opacity="0.5"/><path d="M363.49 834.23A9.75 9.75 0 0 0 363.49 842.77" stroke-opacity="0.18"/><path d="M362.88 835.81A9.75 9.75 0 0 0 362.88 841.19" stroke-opacity="0.5"/><path d="M376.49 834.23A9.75 9.75 0 0 0 376.49 842.77" stroke-opacity="0.18"/><path d="M375.88 835.81A9.75 9.75 0 0 0 375.88 841.19" stroke-opacity="0.5"/><path d="M389.49 834.23A9.75 9.75 0 0 0 389.49 842.77" stroke-opacity="0.18"/><path d="M388.88 835.81A9.75 9.75 0 0 0 388.88 841.19" stroke-opacity="0.5"/><path d="M402.59 834.23A9.75 9.75 0 0 0 402.59 842.77" stroke-opacity="0.18"/><path d="M401.98 835.81A9.75 9.75 0 0 0 401.98 841.19" stroke-opacity="0.5"/><path d="M411.59 834.23A9.75 9.75 0 0 0 411.59 842.77" stroke-opacity="0.18"/><path d="M410.98 835.81A9.75 9.75 0 0 0 410.98 841.19" stroke-opacity="0.5"/><path d="M424.59 834.23A9.75 9.75 0 0 0 424.59 842.77" stroke-opacity="0.18"/><path d="M423.98 835.81A9.75 9.75 0 0 0 423.98 841.19" stroke-opacity="0.5"/><path d="M437.39 834.23A9.75 9.75 0 0 0 437.39 842.77" stroke-opacity="0.18"/><path d="M436.78 835.81A9.75 9.75 0 0 0 436.78 841.19" stroke-opacity="0.5"/><path d="M450.39 834.23A9.75 9.75 0 0 0 450.39 842.77" stroke-opacity="0.18"/><path d="M449.78 835.81A9.75 9.75 0 0 0 449.78 841.19" stroke-opacity="0.5"/><path d="M459.39 834.23A9.75 9.75 0 0 0 459.39 842.77" stroke-opacity="0.18"/><path d="M458.78 835.81A9.75 9.75 0 0 0 458.78 841.19" stroke-opacity="0.5"/><path d="M472.39 834.23A9.75 9.75 0 0 0 472.39 842.77" stroke-opacity="0.18"/><path d="M471.78 835.81A9.75 9.75 0 0 0 471.78 841.19" stroke-opacity="0.5"/><path d="M485.29 834.23A9.75 9.75 0 0 0 485.29 842.77" stroke-opacity="0.18"/><path d="M484.68 835.81A9.75 9.75 0 0 0 484.68 841.19" stroke-opacity="0.5"/><path d="M498.29 834.23A9.75 9.75 0 0 0 498.29 842.77" stroke-opacity="0.18"/><path d="M497.68 835.81A9.75 9.75 0 0 0 497.68 841.19" stroke-opacity="0.5"/><path d="M507.59 834.23A9.75 9.75 0 0 0 507.59 842.77" stroke-opacity="0.18"/><path d="M506.98 835.81A9.75 9.75 0 0 0 506.98 841.19" stroke-opacity="0.5"/><path d="M520.39 834.23A9.75 9.75 0 0 0 520.39 842.77" stroke-opacity="0.18"/><path d="M519.78 835.81A9.75 9.75 0 0 0 519.78 841.19" stroke-opacity="0.5"/><path d="M533.39 834.23A9.75 9.75 0 0 0 533.39 842.77" stroke-opacity="0.18"/><path d="M532.78 835.81A9.75 9.75 0 0 0 532.78 841.19" stroke-opacity="0.5"/><path d="M546.39 834.23A9.75 9.75 0 0 0 546.39 842.77" stroke-opacity="0.18"/><path d="M545.78 835.81A9.75 9.75 0 0 0 545.78 841.19" stroke-opacity="0.5"/><path d="M555.49 834.23A9.75 9.75 0 0 0 555.49 842.77" stroke-opacity="0.18"/><path d="M554.88 835.81A9.75 9.75 0 0 0 554.88 841.19" stroke-opacity="0.5"/><path d="M568.49 834.23A9.75 9.75 0 0 0 568.49 842.77" stroke-opacity="0.18"/><path d="M567.88 835.81A9.75 9.75 0 0 0 567.88 841.19" stroke-opacity="0.5"/><path d="M581.49 834.23A9.75 9.75 0 0 0 581.49 842.77" stroke-opacity="0.18"/><path d="M580.88 835.81A9.75 9.75 0 0 0 580.88 841.19" stroke-opacity="0.5"/><path d="M594.59 834.23A9.75 9.75 0 0 0 594.59 842.77" stroke-opacity="0.18"/><path d="M593.98 835.81A9.75 9.75 0 0 0 593.98 841.19" stroke-opacity="0.5"/><path d="M603.59 834.23A9.75 9.75 0 0 0 603.59 842.77" stroke-opacity="0.18"/><path d="M602.98 835.81A9.75 9.75 0 0 0 602.98 841.19" stroke-opacity="0.5"/><path d="M616.59 834.23A9.75 9.75 0 0 0 616.59 842.77" stroke-opacity="0.18"/><path d="M615.98 835.81A9.75 9.75 0 0 0 615.98 841.19" stroke-opacity="0.5"/><path d="M629.39 834.23A9.75 9.75 0 0 0 629.39 842.77" stroke-opacity="0.18"/><path d="M628.78 835.81A9.75 9.75 0 0 0 628.78 841.19" stroke-opacity="0.5"/><path d="M642.39 834.23A9.75 9.75 0 0 0 642.39 842.77" stroke-opacity="0.18"/><path d="M641.78 835.81A9.75 9.75 0 0 0 641.78 841.19" stroke-opacity="0.5"/><path d="M655.49 834.23A9.75 9.75 0 0 0 655.49 842.77" stroke-opacity="0.18"/><path d="M654.88 835.81A9.75 9.75 0 0 0 654.88 841.19" stroke-opacity="0.5"/><path d="M664.49 834.23A9.75 9.75 0 0 0 664.49 842.77" stroke-opacity="0.18"/><path d="M663.88 835.81A9.75 9.75 0 0 0 663.88 841.19" stroke-opacity="0.5"/><path d="M677.49 834.23A9.75 9.75 0 0 0 677.49 842.77" stroke-opacity="0.18"/><path d="M676.88 835.81A9.75 9.75 0 0 0 676.88 841.19" stroke-opacity="0.5"/><path d="M690.49 834.23A9.75 9.75 0 0 0 690.49 842.77" stroke-opacity="0.18"/><path d="M689.88 835.81A9.75 9.75 0 0 0 689.88 841.19" stroke-opacity="0.5"/><path d="M703.59 834.23A9.75 9.75 0 0 0 703.59 842.77" stroke-opacity="0.18"/><path d="M702.98 835.81A9.75 9.75 0 0 0 702.98 841.19" stroke-opacity="0.5"/><path d="M716.59 834.23A9.75 9.75 0 0 0 716.59 842.77" stroke-opacity="0.18"/><path d="M715.98 835.81A9.75 9.75 0 0 0 715.98 841.19" stroke-opacity="0.5"/><path d="M725.59 834.23A9.75 9.75 0 0 0 725.59 842.77" stroke-opacity="0.18"/><path d="M724.98 835.81A9.75 9.75 0 0 0 724.98 841.19" stroke-opacity="0.5"/><path d="M738.69 834.23A9.75 9.75 0 0 0 738.69 842.77" stroke-opacity="0.18"/><path d="M738.08 835.81A9.75 9.75 0 0 0 738.08 841.19" stroke-opacity="0.5"/><path d="M751.49 834.23A9.75 9.75 0 0 0 751.49 842.77" stroke-opacity="0.18"/><path d="M750.88 835.81A9.75 9.75 0 0 0 750.88 841.19" stroke-opacity="0.5"/><path d="M764.39 834.23A9.75 9.75 0 0 0 764.39 842.77" stroke-opacity="0.18"/><path d="M763.78 835.81A9.75 9.75 0 0 0 763.78 841.19" stroke-opacity="0.5"/><path d="M773.49 834.23A9.75 9.75 0 0 0 773.49 842.77" stroke-opacity="0.18"/><path d="M772.88 835.81A9.75 9.75 0 0 0 772.88 841.19" stroke-opacity="0.5"/><path d="M786.29 834.23A9.75 9.75 0 0 0 786.29 842.77" stroke-opacity="0.18"/><path d="M785.68 835.81A9.75 9.75 0 0 0 785.68 841.19" stroke-opacity="0.5"/><path d="M799.29 834.23A9.75 9.75 0 0 0 799.29 842.77" stroke-opacity="0.18"/><path d="M798.68 835.81A9.75 9.75 0 0 0 798.68 841.19" stroke-opacity="0.5"/><path d="M812.39 834.23A9.75 9.75 0 0 0 812.39 842.77" stroke-opacity="0.18"/><path d="M811.78 835.81A9.75 9.75 0 0 0 811.78 841.19" stroke-opacity="0.5"/><path d="M821.39 834.23A9.75 9.75 0 0 0 821.39 842.77" stroke-opacity="0.18"/><path d="M820.78 835.81A9.75 9.75 0 0 0 820.78 841.19" stroke-opacity="0.5"/><path d="M834.39 834.23A9.75 9.75 0 0 0 834.39 842.77" stroke-opacity="0.18"/><path d="M833.78 835.81A9.75 9.75 0 0 0 833.78 841.19" stroke-opacity="0.5"/><path d="M847.49 834.23A9.75 9.75 0 0 0 847.49 842.77" stroke-opacity="0.18"/><path d="M846.88 835.81A9.75 9.75 0 0 0 846.88 841.19" stroke-opacity="0.5"/><path d="M860.49 834.23A9.75 9.75 0 0 0 860.49 842.77" stroke-opacity="0.18"/><path d="M859.88 835.81A9.75 9.75 0 0 0 859.88 841.19" stroke-opacity="0.5"/><path d="M869.29 834.23A9.75 9.75 0 0 0 869.29 842.77" stroke-opacity="0.18"/><path d="M868.68 835.81A9.75 9.75 0 0 0 868.68 841.19" stroke-opacity="0.5"/><path d="M882.59 834.23A9.75 9.75 0 0 0 882.59 842.77" stroke-opacity="0.18"/><path d="M881.98 835.81A9.75 9.75 0 0 0 881.98 841.19" stroke-opacity="0.5"/><path d="M895.59 834.23A9.75 9.75 0 0 0 895.59 842.77" stroke-opacity="0.18"/><path d="M894.98 835.81A9.75 9.75 0 0 0 894.98 841.19" stroke-opacity="0.5"/><path d="M908.39 834.23A9.75 9.75 0 0 0 908.39 842.77" stroke-opacity="0.18"/><path d="M907.78 835.81A9.75 9.75 0 0 0 907.78 841.19" stroke-opacity="0.5"/><path d="M917.59 834.23A9.75 9.75 0 0 0 917.59 842.77" stroke-opacity="0.18"/><path d="M916.98 835.81A9.75 9.75 0 0 0 916.98 841.19" stroke-opacity="0.5"/><path d="M930.69 834.23A9.75 9.75 0 0 0 930.69 842.77" stroke-opacity="0.18"/><path d="M930.08 835.81A9.75 9.75 0 0 0 930.08 841.19" stroke-opacity="0.5"/><path d="M943.49 834.23A9.75 9.75 0 0 0 943.49 842.77" stroke-opacity="0.18"/><path d="M942.88 835.81A9.75 9.75 0 0 0 942.88 841.19" stroke-opacity="0.5"/><path d="M956.49 834.23A9.75 9.75 0 0 0 956.49 842.77" stroke-opacity="0.18"/><path d="M955.88 835.81A9.75 9.75 0 0 0 955.88 841.19" stroke-opacity="0.5"/><path d="M969.49 834.23A9.75 9.75 0 0 0 969.49 842.77" stroke-opacity="0.18"/><path d="M968.88 835.81A9.75 9.75 0 0 0 968.88 841.19" stroke-opacity="0.5"/><path d="M978.49 834.23A9.75 9.75 0 0 0 978.49 842.77" stroke-opacity="0.18"/><path d="M977.88 835.81A9.75 9.75 0 0 0 977.88 841.19" stroke-opacity="0.5"/><path d="M991.59 834.23A9.75 9.75 0 0 0 991.59 842.77" stroke-opacity="0.18"/><path d="M990.98 835.81A9.75 9.75 0 0 0 990.98 841.19" stroke-opacity="0.5"/><path d="M1004.59 834.23A9.75 9.75 0 0 0 1004.59 842.77" stroke-opacity="0.18"/><path d="M1003.98 835.81A9.75 9.75 0 0 0 1003.98 841.19" stroke-opacity="0.5"/><path d="M1017.39 834.23A9.75 9.75 0 0 0 1017.39 842.77" stroke-opacity="0.18"/><path d="M1016.78 835.81A9.75 9.75 0 0 0 1016.78 841.19" stroke-opacity="0.5"/><path d="M1030.39 834.23A9.75 9.75 0 0 0 1030.39 842.77" stroke-opacity="0.18"/><path d="M1029.78 835.81A9.75 9.75 0 0 0 1029.78 841.19" stroke-opacity="0.5"/><path d="M1039.39 834.23A9.75 9.75 0 0 0 1039.39 842.77" stroke-opacity="0.18"/><path d="M1038.78 835.81A9.75 9.75 0 0 0 1038.78 841.19" stroke-opacity="0.5"/><path d="M1052.39 834.23A9.75 9.75 0 0 0 1052.39 842.77" stroke-opacity="0.18"/><path d="M1051.78 835.81A9.75 9.75 0 0 0 1051.78 841.19" stroke-opacity="0.5"/><path d="M1065.49 834.23A9.75 9.75 0 0 0 1065.49 842.77" stroke-opacity="0.18"/><path d="M1064.88 835.81A9.75 9.75 0 0 0 1064.88 841.19" stroke-opacity="0.5"/></g></g>
<rect x="930" y="65.5" width="228" height="57" fill="#fff"/>
<path d="M1098.2 74.5H1144.9" stroke="#0060ad" stroke-width="2" stroke-linecap="round" fill="none"/><circle cx="1121.5" cy="74.5" r="9.75" fill="#fff"/><circle cx="1121.5" cy="74.5" r="5.5" fill="#0060ad"/>
<path d="M1098.2 93.5H1144.9" stroke="#ff7f0e" stroke-width="2" stroke-linecap="round" fill="none"/><circle cx="1121.5" cy="93.5" r="9.75" fill="#fff"/><circle cx="1121.5" cy="93.5" r="5.5" fill="#ff7f0e"/>
<path d="M1098.2 112.5H1144.9" stroke="#2ca02c" stroke-width="2" stroke-linecap="round" fill="none"/><circle cx="1121.5" cy="112.5" r="9.75" fill="#fff"/><circle cx="1121.5" cy="112.5" r="5.5" fill="#2ca02c"/>
<text transform="translate(1086.50,80.30) scale(0.9051,1)" font-size="16.90" x="-33.56 -22.93 -10.97">TCP</text>
<text transform="translate(1086.50,99.30) scale(0.9439,1)" font-size="16.90" x="-35.58 -22.85 -10.75">UDP</text>
<text transform="translate(1086.50,118.30) scale(1.0072,1)" font-size="16.90" x="-45.17 -39.93 -28.00 -16.62 -5.91">!UDP)</text>
<text transform="translate(1029.99,118.30) scale(0.9588,1)" font-size="16.90" x="-65.28 -61.08 -50.11 -44.67 -37.60 -31.97 -21.99 -10.67">IP (!TCP</text>
<path d="M75.5 57.5V838.5H1165.5" fill="none" stroke="#000" stroke-width="1" stroke-linecap="square" stroke-linejoin="miter"/>
<text transform="translate(65.50,844.90) scale(1.0831,1)" font-size="16.90" x="-9.40">0</text>
<text transform="translate(65.50,733.25) scale(1.0831,1)" font-size="16.90" x="-9.40">5</text>
<text transform="translate(65.50,621.60) scale(1.0831,1)" font-size="16.90" x="-18.80 -9.40">10</text>
<text transform="translate(65.50,509.95) scale(1.0831,1)" font-size="16.90" x="-18.80 -9.40">15</text>
<text transform="translate(65.50,398.30) scale(1.0831,1)" font-size="16.90" x="-18.80 -9.40">20</text>
<text transform="translate(65.50,286.65) scale(1.0831,1)" font-size="16.90" x="-18.80 -9.40">25</text>
<text transform="translate(65.50,175.00) scale(1.0831,1)" font-size="16.90" x="-18.80 -9.40">30</text>
<text transform="translate(65.50,63.35) scale(1.0831,1)" font-size="16.90" x="-18.80 -9.40">35</text>
<text transform="translate(78.30,864.00) scale(1.0831,1)" font-size="16.90" x="-4.70">0</text>
<text transform="translate(296.30,864.00) scale(1.0831,1)" font-size="16.90" x="-9.40 -0.00">50</text>
<text transform="translate(514.30,864.00) scale(1.0831,1)" font-size="16.90" x="-14.10 -4.70 4.70">100</text>
<text transform="translate(732.30,864.00) scale(1.0831,1)" font-size="16.90" x="-14.10 -4.70 4.70">150</text>
<text transform="translate(950.30,864.00) scale(1.0831,1)" font-size="16.90" x="-14.10 -4.70 4.70">200</text>
<text transform="translate(1168.30,864.00) scale(1.0831,1)" font-size="16.90" x="-14.10 -4.70 4.70">250</text>
<text transform="translate(620.50,892.00) scale(1.056,1)" font-size="16.90" x="-31.57 -21.56 -17.23 -2.85 6.57 11.46 16.96 25.27">Time (s)</text>
<text transform="translate(24.30,448.00) rotate(-90) scale(1.0619,1)" font-size="16.90" x="-34.83 -21.35 -11.94 -2.54 6.86 16.56 21.14 26.14">Megabits</text>
<text transform="translate(-50.02,35.00) scale(1.0974,1)" font-size="16.88" x="0.11 4.97 18.85 27.93 37.38">/moni</text>
<text transform="translate(-4.72,35.00) scale(1.0906,1)" font-size="16.88" x="0.53 5.53 14.91 20.70 30.18 34.60 42.45 51.45 60.83 66.46 74.66 84.16 88.23 92.10 101.39 111.26 116.60 121.22 129.26 138.64 144.42 153.72 162.65 170.81 175.79 179.66 188.60 196.45 205.46 213.83 218.46 227.78 236.29 245.45 254.86 260.84 264.86 278.84 287.99 297.86">tor0/searchlight/corpus/ipsec/experiment</text>
<text transform="translate(325.81,38.80) scale(1.0831,1)" font-size="13.51" x="-0.00">3</text>
<text transform="translate(333.95,35.00) scale(1.1128,1)" font-size="16.88" x="0.07 4.56 14.15 19.16 28.28">/eth1</text>
<text transform="translate(375.73,38.80) scale(1.12,1)" font-size="13.51" x="0.09">i</text>
<text transform="translate(379.28,35.00) scale(1.081,1)" font-size="16.88" x="-0.01 9.92 15.02 24.49 30.60 35.38 44.45 52.59 61.98 66.81 76.75 81.99 91.53 96.22 105.61 114.21 123.45 128.76 137.84 143.33 152.74 162.14 171.55 180.80 186.28 195.50 204.36 212.42 221.66 227.13 237.06 242.86 248.10 257.49 267.04 271.88 281.29 290.70 300.10 309.51 318.92 328.32 337.73 347.13 356.54 365.80 371.12 379.41 388.81 393.35 401.65 410.68 418.76 428.33 432.26 441.28 449.20 458.29 466.57 476.51 481.75 491.15 495.83 505.21 514.59 524.14 538.37 547.76 552.45 561.83 571.04 580.50 586.18 595.02 602.95 608.28 617.68 626.27 635.52 640.83 649.91 655.40 664.81 674.21 683.62 692.87 698.35 707.57 716.43 724.49 733.73 739.20 749.13 754.93 760.17 769.56">nterface/ptp/exp-a-1080-dash-http3/1646893366-c0.c5s3ipsecptp.hdumb.pharos-exp-a-1080-dash-http3</text>
</svg></body></html>
